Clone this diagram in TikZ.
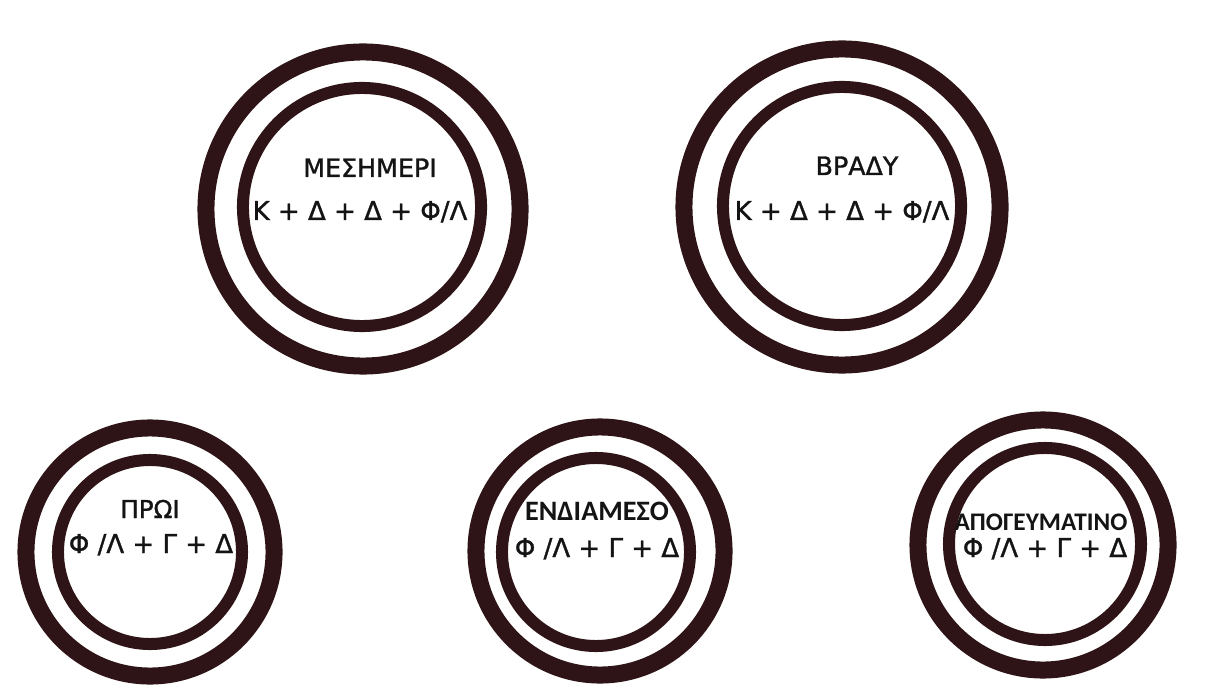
\documentclass[tikz,border=0pt]{standalone}
\usepackage{fontspec}
\setmainfont{DejaVu Sans}[FakeBold=1.2]
\newfontfamily\heavyfont{DejaVu Sans}[FakeBold=1.2]
\newfontfamily\carlitofont{Carlito}
\definecolor{ringbrown}{HTML}{2E1416}
\definecolor{inkblack}{HTML}{141414}

\begin{document}
\begin{tikzpicture}[
    x=0.025cm, y=-0.025cm,
    outerring/.style={circle, draw=ringbrown, line width=0.425cm, inner sep=0pt},
    innerring/.style={circle, draw=ringbrown, line width=0.3cm, inner sep=0pt},
    mealname/.style={anchor=base, inner sep=0pt, text=inkblack, font=\fontsize{18}{20}\selectfont\heavyfont},
    mealmenu/.style={anchor=base, inner sep=0pt, text=inkblack, font=\fontsize{18.5}{20}\selectfont\heavyfont},
    narrowname/.style={mealname, font=\fontsize{19}{21}\selectfont\carlitofont\bfseries}
  ]
    \fill[white] (0,0) rectangle (1216,695);
    \useasboundingbox (0,0) rectangle (1216,695);
    % Mesimeri
    \node[outerring, minimum size=7.85cm] (mesOut) at (363,209) {};
    \node[innerring, minimum size=5.95cm] (mesIn) at (362,207) {};
    \node[mealname] (mesName) at (370,177) {ΜΕΣΗΜΕΡΙ};
    \node[mealmenu] (mesMenu) at (360,220) {Κ + Δ + Δ + Φ/Λ};
    % Vrady
    \node[outerring, minimum size=7.9cm] (vraOut) at (842,207) {};
    \node[innerring, minimum size=5.95cm] (vraIn) at (842,206) {};
    \node[mealname] (vraName) at (857,175) {ΒΡΑΔΥ};
    \node[mealmenu] (vraMenu) at (842,220) {Κ + Δ + Δ + Φ/Λ};
    % Proi
    \node[outerring, minimum size=6.2cm] (proOut) at (150,552) {};
    \node[innerring, minimum size=4.6cm] (proIn) at (150,552) {};
    \node[mealname, font=\fontsize{17.5}{19}\selectfont\heavyfont] (proName) at (150,518) {ΠΡΩΙ};
    \node[mealmenu] (proMenu) at (151,553) {Φ /Λ + Γ + Δ};
    % Endiameso
    \node[outerring, minimum size=6.2cm] (endOut) at (600,551) {};
    \node[innerring, minimum size=4.7cm] (endIn) at (596,552) {};
    \node[narrowname, font=\fontsize{20}{22}\selectfont\carlitofont\bfseries] (endName) at (597,520) {ΕΝΔΙΑΜΕΣΟ};
    \node[mealmenu] (endMenu) at (597,557) {Φ /Λ + Γ + Δ};
    % Apogevmatino
    \node[outerring, minimum size=6.25cm] (apoOut) at (1043,545) {};
    \node[innerring, minimum size=4.8cm] (apoIn) at (1045,544) {};
    \node[narrowname, font=\fontsize{18}{20}\selectfont\carlitofont\bfseries] (apoName) at (1041,530) {ΑΠΟΓΕΥΜΑΤΙΝΟ};
    \node[mealmenu] (apoMenu) at (1045,557) {Φ /Λ + Γ + Δ};
  \end{tikzpicture}
\end{document}
